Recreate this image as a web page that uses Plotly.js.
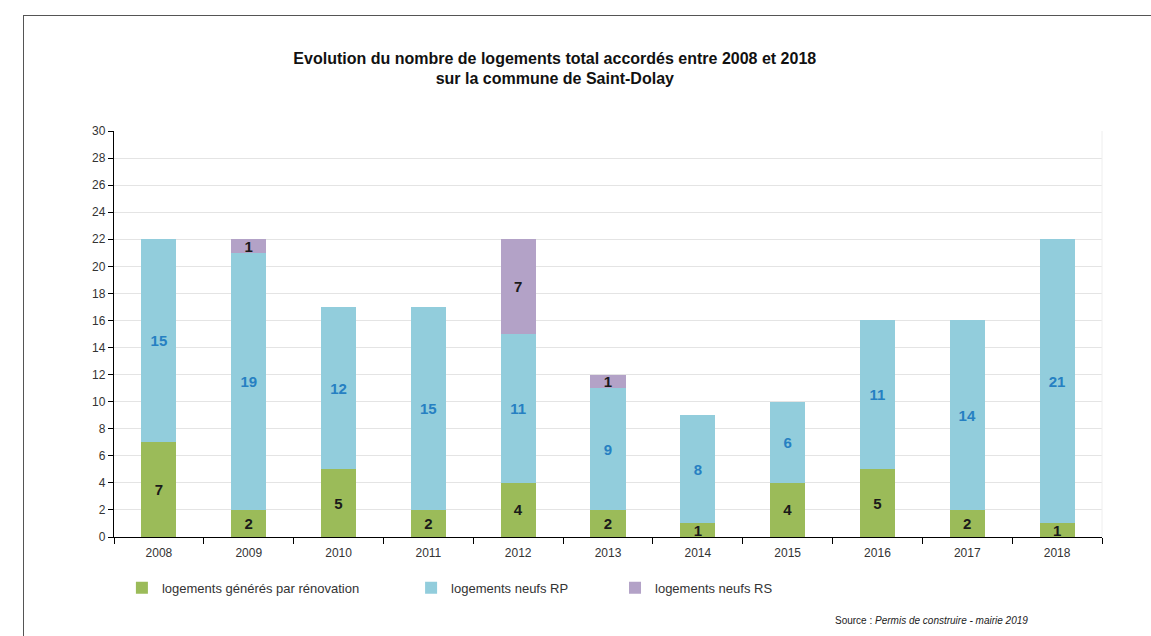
<!DOCTYPE html>
<html>
<head>
<meta charset="utf-8">
<script src="https://cdn.plot.ly/plotly-3.0.1.min.js"></script>
<style>
html,body{margin:0;padding:0;background:#fff;}
#wrap{position:relative;width:1151px;height:636px;overflow:hidden;}
#frame{position:absolute;left:23px;top:15px;width:1200px;height:700px;border:1.5px solid #555;box-sizing:border-box;}
#chart{position:absolute;left:0;top:0;width:1151px;height:636px;}
</style>
</head>
<body>
<div id="wrap"><div id="frame"></div><div id="chart"></div></div>
<script>
const years = ['2008','2009','2010','2011','2012','2013','2014','2015','2016','2017','2018'];
const renovation = [7, 2, 5, 2, 4, 2, 1, 4, 5, 2, 1];
const neufsRP = [15, 19, 12, 15, 11, 9, 8, 6, 11, 14, 21];
const neufsRS = [0, 1, 0, 0, 7, 1, 0, 0, 0, 0, 0];
const seriesNames = ['logements générés par rénovation', 'logements neufs RP', 'logements neufs RS'];
const yTicks = [0,2,4,6,8,10,12,14,16,18,20,22,24,26,28,30];

const FONT = 'Liberation Sans, Arial, sans-serif';
const lbl = v => v.map(x => x > 0 ? String(x) : '');
const mk = (vals, name, color, tcolor, leg) => ({
  type: 'bar', x: years, y: vals, name: name, legend: leg,
  marker: {color: color, line: {width: 0}},
  text: lbl(vals), textposition: 'inside', insidetextanchor: 'middle', textangle: 0,
  textfont: {family: FONT, size: 15, color: tcolor, weight: 'bold'},
  hoverinfo: 'x+y+name', cliponaxis: false
});

const data = [
  mk(renovation, seriesNames[0], '#9bbb59', '#1a1a1a', 'legend'),
  mk(neufsRP, seriesNames[1], '#92cddc', '#2680c2', 'legend2'),
  mk(neufsRS, seriesNames[2], '#b3a2c7', '#1a1a1a', 'legend3')
];

const legFont = {family: FONT, size: 13, color: '#333'};
const legBase = y => ({orientation: 'h', xanchor: 'left', y: y, yanchor: 'middle', font: legFont,
  itemwidth: 30, bgcolor: 'rgba(0,0,0,0)', itemclick: false});
const legY = -0.125;

const layout = {
  width: 1151, height: 636,
  paper_bgcolor: 'rgba(0,0,0,0)', plot_bgcolor: 'rgba(0,0,0,0)',
  margin: {l: 114, r: 49, t: 131, b: 99},
  barmode: 'stack', bargap: 0.61,
  uniformtext: {mode: 'show', minsize: 15},
  title: {
    text: 'Evolution du nombre de logements total accordés entre 2008 et 2018<br>sur la commune de Saint-Dolay',
    x: 0.482, xanchor: 'center', y: 0.9, yanchor: 'middle',
    font: {family: FONT, size: 16, color: '#111', weight: 'bold'}
  },
  xaxis: {
    type: 'category', tickson: 'boundaries', ticks: 'outside', ticklen: 6, tickcolor: '#000',
    showline: true, linecolor: '#000', linewidth: 1.2, showgrid: false, ticklabelstandoff: 4,
    tickfont: {family: FONT, size: 12, color: '#333'},
    fixedrange: true
  },
  yaxis: {
    range: [0, 30], tickvals: yTicks, ticktext: yTicks.map(String),
    ticks: 'outside', ticklen: 5, tickcolor: '#000',
    showline: true, linecolor: '#000', linewidth: 1.2,
    showgrid: true, gridcolor: '#e4e4e4', gridwidth: 1, zeroline: false,
    tickfont: {family: FONT, size: 12, color: '#333'},
    fixedrange: true
  },
  shapes: [
    {type: 'line', xref: 'paper', yref: 'paper', x0: 1, x1: 1, y0: 0, y1: 1, line: {color: '#eeeeee', width: 1}}
  ],
  showlegend: true,
  legend: Object.assign(legBase(legY), {x: 0.008}),
  legend2: Object.assign(legBase(legY), {x: 0.3007}),
  legend3: Object.assign(legBase(legY), {x: 0.5071}),
  annotations: [
    {xref: 'paper', yref: 'paper', x: 0.927, y: -0.205, xanchor: 'right', yanchor: 'middle', showarrow: false,
     text: 'Source : <i>Permis de construire - mairie 2019</i>',
     font: {family: FONT, size: 10, color: '#222'}}
  ]
};

Plotly.newPlot('chart', data, layout, {displayModeBar: false, staticPlot: true});
</script>
</body>
</html>
